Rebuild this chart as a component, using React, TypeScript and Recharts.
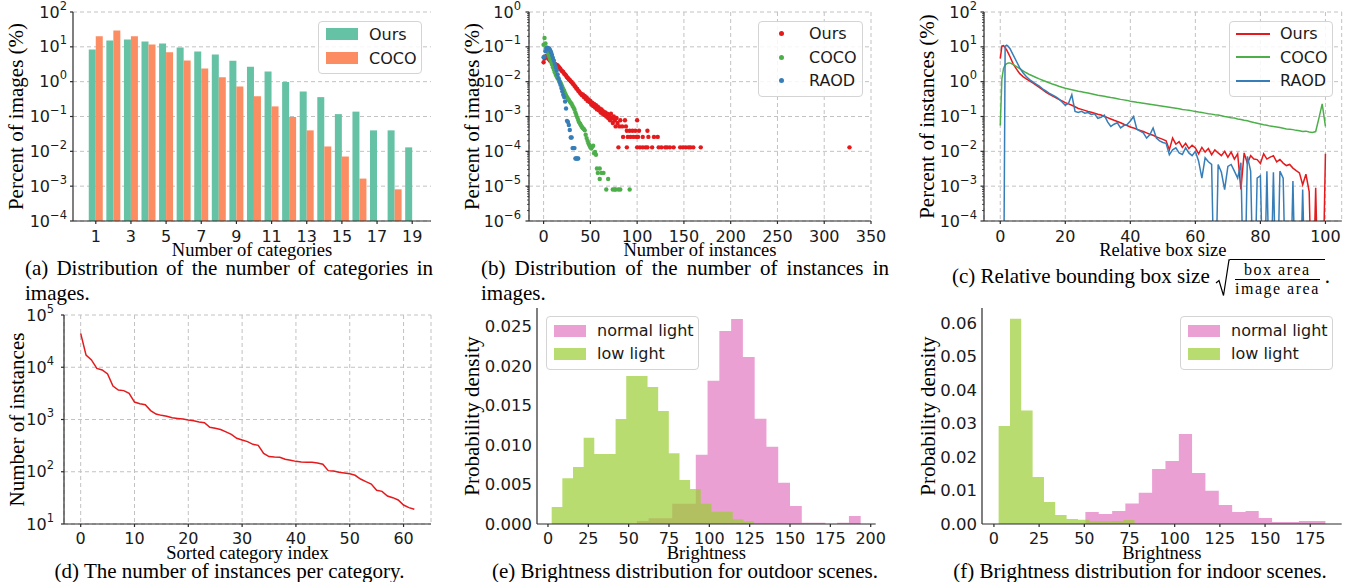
import type { CSSProperties } from 'react'
import {
  Area,
  Bar,
  BarChart,
  CartesianGrid,
  ComposedChart,
  Legend,
  Line,
  LineChart,
  Scatter,
  ScatterChart,
  XAxis,
  YAxis,
} from 'recharts'

const SANS = '"DejaVu Sans", sans-serif'
const SERIF = '"Liberation Serif", "Times New Roman", serif'
const INK = '#1a1a1a'
const GRID = '#c2c2c2'
const SPINE = { stroke: '#2b2b2b', strokeWidth: 1.2 }

// an empty bin on a log axis: drawn far below the visible range and clipped
const EMPTY = 1e-7

// (a) number of categories per image, percent of images
const CATEGORY_COUNTS = [1, 2, 3, 4, 5, 6, 7, 8, 9, 10, 11, 12, 13, 14, 15, 16, 17, 18, 19]
const OURS_CATEGORIES = [8.4, 15.2, 16.3, 14.2, 12.5, 9.6, 7.3, 6.0, 4.0, 2.7, 1.95, 0.98, 0.52, 0.36, 0.117, 0.138, 0.04, 0.04, 0.013]
const COCO_CATEGORIES = [20, 29.5, 20, 11.7, 7.0, 4.05, 2.4, 1.33, 0.73, 0.38, 0.195, 0.097, 0.04, 0.0138, 0.0071, 0.00165, null, 0.00081, null]
const DECADES_A = [1e-4, 1e-3, 1e-2, 1e-1, 1, 10, 100]

// (b) number of instances per image, percent of images
const OURS_INSTANCES: [number, number][] = [
  [0, 0.036], [1, 0.046], [2, 0.052], [3, 0.055], [4, 0.05], [5, 0.046], [6, 0.043], [7, 0.04], [8, 0.038], [9, 0.036],
  [10, 0.034], [11, 0.033], [12, 0.032], [13, 0.031], [14, 0.03], [15, 0.029], [16, 0.027], [17, 0.025], [18, 0.023], [19, 0.021],
  [20, 0.02], [21, 0.019], [22, 0.017], [23, 0.016], [24, 0.015], [25, 0.0135], [26, 0.0128], [27, 0.0118], [28, 0.0112], [29, 0.0102],
  [30, 0.0098], [31, 0.0088], [32, 0.0085], [33, 0.0076], [34, 0.0072], [35, 0.0064], [36, 0.0062], [37, 0.0055], [38, 0.0052], [39, 0.0047],
  [40, 0.0045], [41, 0.0041], [42, 0.0043], [43, 0.0036], [44, 0.0039], [45, 0.0032], [46, 0.0035], [47, 0.0028], [48, 0.0031], [49, 0.0026],
  [50, 0.0028], [51, 0.0022], [52, 0.0025], [53, 0.002], [54, 0.0023], [55, 0.0018], [56, 0.0021], [57, 0.0016], [58, 0.0019], [59, 0.0015],
  [60, 0.0017], [61, 0.0013], [62, 0.0016], [63, 0.0012], [64, 0.0014], [65, 0.0011], [66, 0.0013], [67, 0.001], [68, 0.0012], [69, 0.0009],
  [70, 0.00104], [71, 0.00078], [72, 0.0012], [73, 0.00091], [74, 0.00065], [75, 0.001], [76, 0.00078], [77, 0.00052], [78, 0.00091], [79, 0.00065],
  [80, 0.00013], [81, 0.00052], [82, 0.00078], [84, 0.00052], [85, 0.00026], [87, 0.00078], [88, 0.00052], [89, 0.00013], [89, 0.00039],
  [90, 0.00026], [92, 0.00039], [93, 0.00026], [95, 0.00039], [96, 0.00026], [98, 0.00039], [99, 0.00026], [100, 0.00013], [100, 0.00078],
  [101, 0.00026], [102, 0.00039], [103, 0.00013], [106, 0.00013], [106, 0.00026], [109, 0.00013], [111, 0.00013], [111, 0.00039],
  [112, 0.00026], [116, 0.00013], [118, 0.00026], [122, 0.00026], [123, 0.00013], [126, 0.00013], [130, 0.00013], [132, 0.00013],
  [135, 0.00013], [139, 0.00013], [146, 0.00013], [149, 0.00013], [152, 0.00013], [155, 0.00013], [157, 0.00013], [160, 0.00013],
  [168, 0.00013], [327, 0.00013],
]
const COCO_INSTANCES: [number, number][] = [
  [0, 0.115], [1, 0.18], [2, 0.125], [3, 0.095], [4, 0.075], [5, 0.062], [6, 0.052], [7, 0.044], [8, 0.037], [9, 0.031],
  [10, 0.026], [11, 0.022], [12, 0.0185], [13, 0.0158], [14, 0.014], [15, 0.0125], [16, 0.0113], [17, 0.0104], [18, 0.0095], [19, 0.0083],
  [20, 0.0072], [21, 0.0062], [22, 0.0055], [23, 0.0047], [24, 0.0041], [25, 0.0036], [26, 0.0033], [27, 0.003], [28, 0.0027], [29, 0.0025],
  [30, 0.0023], [31, 0.002], [32, 0.0018], [33, 0.0016], [34, 0.0013], [35, 0.0011], [36, 0.00093], [37, 0.0008], [38, 0.00068], [39, 0.00062],
  [40, 0.00055], [41, 0.0005], [42, 0.00046], [43, 0.00044], [44, 0.0004], [45, 0.0003], [46, 0.00024], [47, 0.0002], [48, 0.00017], [49, 0.00015],
  [50, 0.00013], [51, 0.00012], [52, 0.000135], [53, 0.000145], [54, 0.000088], [55, 0.000096], [56, 0.00008], [57, 0.000032], [58, 0.000024],
  [60, 0.000016], [60, 0.000032], [62, 0.000024], [64, 0.000024], [67, 0.000008], [69, 0.000016], [74, 0.000008], [76, 0.000008],
  [77, 0.000008], [80, 0.000008], [82, 0.000008], [92, 0.000008],
]
const RAOD_INSTANCES: [number, number][] = [
  [0, 0.05], [1, 0.052], [2, 0.075], [3, 0.09], [4, 0.095], [5, 0.092], [6, 0.088], [7, 0.08], [8, 0.07], [9, 0.058],
  [10, 0.048], [11, 0.04], [12, 0.032], [13, 0.026], [14, 0.021], [15, 0.016], [16, 0.0125], [17, 0.0098], [18, 0.0082], [19, 0.0066],
  [20, 0.0053], [21, 0.0042], [22, 0.0036], [23, 0.0027], [24, 0.0017], [25, 0.00075], [26, 0.0007], [27, 0.00057], [28, 0.00041],
  [29, 0.00025], [30, 0.00025], [31, 0.000124], [32, 0.000124], [33, 0.000124], [34, 0.000062], [35, 0.000062], [36, 0.000062], [37, 0.000062],
]
const DECADES_B = [1e-6, 1e-5, 1e-4, 1e-3, 1e-2, 1e-1, 1]

// minor ticks of a log axis: 2..9 times every decade but the last
const MINOR_MULTIPLES = [2, 3, 4, 5, 6, 7, 8, 9]
function withMinorTicks(decades: number[]) {
  return [...decades, ...decades.slice(0, -1).flatMap((d) => MINOR_MULTIPLES.map((m) => d * m))]
}

// (c) relative box size, percent of instances
const BOX_SIZE = [0, 0.5, 1, 1.5, 2, 2.5, 3, ...Array.from({ length: 97 }, (_, i) => i + 4)]
const OURS_BOX = [
  4.6, 10.5, 10.8, 9.5, 8.0, 6.5, 5.2,
  3.2, 2.3, 1.7, 1.4, 1.2, 1.05, 0.92, 0.8, 0.69, 0.59,
  0.5, 0.44, 0.39, 0.35, 0.31, 0.28, 0.25, 0.23, 0.21, 0.19,
  0.17, 0.16, 0.15, 0.14, 0.132, 0.124, 0.116, 0.11, 0.1, 0.093,
  0.085, 0.078, 0.072, 0.066, 0.06, 0.055, 0.05, 0.047, 0.043, 0.04,
  0.037, 0.034, 0.031, 0.029, 0.026, 0.024, 0.022, 0.02, 0.011, 0.024,
  0.016, 0.019, 0.013, 0.017, 0.012, 0.015, 0.0125, 0.0085, 0.013, 0.0095,
  0.012, 0.008, 0.011, 0.009, 0.0075, 0.01, 0.0068, 0.0095, 0.006, 0.0085,
  0.0008, 0.009, 0.0045, 0.0075, 0.006, 0.0058, 0.0045, 0.0085, 0.006, 0.0068,
  0.0075, 0.005, 0.0058, 0.0046, 0.0039, 0.0042, 0.0033, 0.0028, 0.0024, 0.0011,
  0.0022, 0.0007, EMPTY, 0.0009, EMPTY, EMPTY, 0.0085,
]
const COCO_BOX = [
  0.055, 1.2, 2.4, 3.0, 3.3, 3.45, 3.45,
  3.1, 2.7, 2.35, 2.05, 1.8, 1.6, 1.45, 1.32, 1.2, 1.1,
  1.01, 0.93, 0.86, 0.8, 0.74, 0.69, 0.65, 0.62, 0.59, 0.56,
  0.53, 0.51, 0.49, 0.47, 0.45, 0.43, 0.41, 0.395, 0.38, 0.365,
  0.35, 0.34, 0.325, 0.31, 0.3, 0.29, 0.275, 0.265, 0.255, 0.248,
  0.24, 0.232, 0.224, 0.217, 0.21, 0.203, 0.197, 0.19, 0.184, 0.178,
  0.172, 0.166, 0.16, 0.155, 0.15, 0.145, 0.14, 0.134, 0.13, 0.125,
  0.12, 0.117, 0.113, 0.11, 0.105, 0.1, 0.097, 0.092, 0.09, 0.085,
  0.082, 0.078, 0.075, 0.071, 0.067, 0.064, 0.061, 0.058, 0.056, 0.053,
  0.052, 0.05, 0.048, 0.046, 0.044, 0.043, 0.042, 0.04, 0.039, 0.037,
  0.038, 0.036, 0.035, 0.037, 0.09, 0.23, 0.052,
]
const RAOD_BOX = [
  EMPTY, EMPTY, EMPTY, 10.5, 11.2, 10.2, 8.8,
  5.8, 3.8, 2.5, 1.8, 1.4, 1.15, 0.98, 0.85, 0.74, 0.62,
  0.54, 0.47, 0.42, 0.37, 0.32, 0.26, 0.21, 0.24, 0.42, 0.14,
  0.13, 0.14, 0.125, 0.13, 0.115, 0.12, 0.088, 0.095, 0.11, 0.07,
  0.052, 0.06, 0.066, 0.047, 0.055, 0.059, 0.074, 0.1, 0.043, 0.038,
  0.034, 0.024, 0.03, 0.047, 0.024, 0.02, 0.018, 0.017, 0.008, 0.011,
  0.0126, 0.009, 0.0081, 0.0126, 0.009, 0.0075, 0.01, 0.0052, 0.0017, 0.0065,
  0.005, 0.0042, EMPTY, 0.0042, 0.0025, 0.0008, 0.0037, 0.0042, 0.0027, 0.0017,
  0.0047, EMPTY, 0.0072, 0.0027, EMPTY, 0.0017, 0.002, EMPTY, 0.0027, EMPTY,
  0.0025, EMPTY, 0.0027, 0.0017, EMPTY, EMPTY, 0.0014, EMPTY, EMPTY, 0.0008,
  EMPTY, EMPTY, EMPTY, EMPTY, EMPTY, EMPTY, EMPTY,
]

// (d) instances per category, sorted
const INSTANCES_PER_CATEGORY = [
  44600, 17100, 13800, 9500, 8860, 7430, 4380, 3670, 3570, 3170,
  2160, 2010, 1920, 1480, 1270, 1200, 1150, 1080, 1050, 1020,
  980, 950, 900, 870, 710, 680, 645, 580, 520, 436,
  405, 377, 335, 320, 225, 195, 191, 189, 174, 166,
  158, 154, 152, 152, 147, 139, 105, 103, 97.5, 94.6,
  91.9, 85.6, 72.6, 64.6, 58.3, 44.1, 42.2, 34.4, 31.9, 28.8,
  23.1, 20.6, 19.1,
]

// (e) outdoor brightness histograms (bin edges + density per bin)
const OUTDOOR_NORMAL_EDGES = [55.1, 62.4, 69.7, 77.0, 84.3, 91.6, 98.9, 106.2, 113.5, 120.8, 128.1, 135.4, 142.7, 150.0, 157.3, 164.6, 171.9, 179.2, 186.5, 193.8]
const OUTDOOR_NORMAL_DENSITY = [0.00038, 0.00072, 0.00072, 0.00257, 0.00257, 0.00878, 0.01816, 0.02445, 0.02597, 0.02116, 0.01334, 0.0098, 0.00524, 0.00228, 0.00015, 0.00015, 0, 0.00015, 0.001]
const OUTDOOR_LOW_EDGES = [2.3, 8.9, 15.5, 22.1, 28.7, 35.3, 41.9, 48.5, 55.1, 61.7, 68.3, 74.9, 81.5, 88.1, 94.7, 101.3, 107.9, 114.5, 121.1, 127.7]
const OUTDOOR_LOW_DENSITY = [0.00215, 0.00579, 0.00722, 0.01094, 0.00887, 0.00887, 0.0133, 0.01875, 0.01875, 0.01736, 0.01432, 0.00895, 0.00557, 0.00443, 0.00258, 0.00156, 0.00156, 0.00059, 0.00036]

// (f) indoor brightness histograms
const INDOOR_NORMAL_EDGES = [50.6, 58.0, 65.4, 72.7, 80.1, 87.5, 94.9, 102.3, 109.6, 117.0, 124.4, 131.8, 139.2, 146.5, 153.9, 161.3, 168.7, 176.1, 183.4]
const INDOOR_NORMAL_DENSITY = [0.0036, 0.003, 0.0039, 0.0061, 0.0093, 0.0164, 0.0188, 0.0269, 0.0152, 0.0099, 0.0057, 0.0036, 0.0039, 0.0018, 0.0006, 0.0006, 0.0009, 0.0009]
const INDOOR_LOW_EDGES = [2.6, 8.9, 15.1, 21.4, 27.7, 33.9, 40.2, 46.5, 52.7, 59.0, 65.3, 71.5, 77.8]
const INDOOR_LOW_DENSITY = [0.0293, 0.0613, 0.0339, 0.014, 0.0066, 0.0027, 0.0015, 0.0013, 0.0008, 0.0008, 0.0009, 0.0012]

const PINK = '#e377c2'
const LIME = '#9acd32'

// step-after points: each edge carries the height of the bin that starts there
function histPoints(edges: number[], density: number[]) {
  return edges.map((x, i) => ({ x, h: density[Math.min(i, density.length - 1)] }))
}

function powLabel(value: number, x: number, y: number) {
  const exp = Math.round(Math.log10(value))
  const sup = exp < 0 ? '\u2212' + -exp : String(exp)
  return (
    <text x={x} y={y + 5.5} textAnchor="end" fontFamily={SANS} fontSize={16} fill={INK}>
      <tspan>10</tspan>
      <tspan dy={-8} fontSize={11.5}>{sup}</tspan>
    </text>
  )
}

function PowTick(props: any) {
  return powLabel(props.payload.value, props.x, props.y)
}

// log tick that draws its own mark: long at decades (with a label), short at minor steps
function minorLogTick(margin: number) {
  return (props: any) => {
    const v = Number(props.payload.value)
    const lg = Math.log10(v)
    const major = Math.abs(lg - Math.round(lg)) < 1e-6
    const axisX = props.x + margin
    return (
      <g>
        <line x1={axisX - (major ? 3.5 : 2)} x2={axisX} y1={props.y} y2={props.y} stroke="#2b2b2b" strokeWidth={major ? 1.2 : 0.8} />
        {major && powLabel(v, props.x, props.y)}
      </g>
    )
  }
}

function XTick(props: any) {
  const { x, y, payload } = props
  return (
    <text x={x} y={y + 11.5} textAnchor="middle" fontFamily={SANS} fontSize={16} fill={INK}>
      {payload.value}
    </text>
  )
}

function decimalTick(digits: number) {
  return (props: any) => (
    <text x={props.x} y={props.y + 5.8} textAnchor="end" fontFamily={SANS} fontSize={16.5} fill={INK}>
      {Number(props.payload.value).toFixed(digits)}
    </text>
  )
}

function xTitle(text: string, dy: number) {
  return (props: any) => {
    const vb = props.viewBox ?? {}
    const x = (vb.x ?? 0) + (vb.width ?? 0) / 2
    return (
      <text x={x} y={(vb.y ?? 0) + dy} textAnchor="middle" dominantBaseline="central" fontFamily={SERIF} fontSize={18.5} fill="#000">
        {text}
      </text>
    )
  }
}

function yTitle(text: string, cx: number) {
  return (props: any) => {
    const vb = props.viewBox ?? {}
    const cy = (vb.y ?? 0) + (vb.height ?? 0) / 2
    return (
      <text x={cx} y={cy} transform={`rotate(-90 ${cx} ${cy})`} textAnchor="middle" dominantBaseline="central" fontFamily={SERIF} fontSize={21} fill="#000">
        {text}
      </text>
    )
  }
}

function dotShape(color: string) {
  return (props: any) => <circle cx={props.cx} cy={props.cy} r={2.2} fill={color} />
}

interface LegendItem {
  label: string
  color: string
  opacity?: number
}

function boxLegend(items: LegendItem[], swatch: 'patch' | 'dot' | 'line', rowH: number, padTop: number) {
  return () => (
    <div
      style={{
        boxSizing: 'border-box',
        border: '1px solid #d4d4d4',
        borderRadius: 4,
        background: 'rgba(255,255,255,0.85)',
        paddingTop: padTop,
        paddingBottom: 3,
        fontFamily: SANS,
        fontSize: 16,
        color: INK,
      }}
    >
      {items.map((item) => (
        <div key={item.label} style={{ display: 'flex', alignItems: 'center', height: rowH }}>
          <div style={{ width: 45, display: 'flex', justifyContent: 'center' }}>
            {swatch === 'patch' && <div style={{ width: 32, height: 12, background: item.color, opacity: item.opacity ?? 1 }} />}
            {swatch === 'dot' && <div style={{ width: 5, height: 5, borderRadius: 3, background: item.color }} />}
            {swatch === 'line' && <div style={{ width: 34, height: 1.6, background: item.color }} />}
          </div>
          <span style={{ marginLeft: 5 }}>{item.label}</span>
        </div>
      ))}
    </div>
  )
}

function CategoriesChart() {
  const rows = CATEGORY_COUNTS.map((n, i) => ({ n, ours: OURS_CATEGORIES[i], coco: COCO_CATEGORIES[i] }))
  return (
    <BarChart width={440} height={262} data={rows} margin={{ top: 12, right: 9, left: 0, bottom: 0 }} barCategoryGap="10%" barGap={0}>
      <CartesianGrid vertical={false} stroke={GRID} strokeDasharray="4 3" />
      <XAxis dataKey="n" interval={1} padding={{ left: 14, right: 10 }} height={41} tick={<XTick />} tickSize={3} tickMargin={6} axisLine={SPINE} tickLine={SPINE} label={xTitle('Number of categories', 29)} />
      <YAxis scale="log" domain={[1e-4, 100]} ticks={DECADES_A} allowDataOverflow width={73} tick={<PowTick />} tickSize={3} tickMargin={3} axisLine={SPINE} tickLine={SPINE} label={yTitle('Percent of images (%)', 16)} />
      <Legend
        layout="vertical"
        align="center"
        verticalAlign="middle"
        wrapperStyle={{ left: 318, top: 21, width: 104 }}
        content={boxLegend([{ label: 'Ours', color: '#66c2a5' }, { label: 'COCO', color: '#fc8d62' }], 'patch', 24, 0)}
      />
      <Bar dataKey="ours" name="Ours" fill="#66c2a5" isAnimationActive={false} />
      <Bar dataKey="coco" name="COCO" fill="#fc8d62" isAnimationActive={false} />
    </BarChart>
  )
}

function InstancesChart() {
  const toPoints = (list: [number, number][]) => list.map(([x, y]) => ({ x, y }))
  return (
    <ScatterChart width={445} height={262} margin={{ top: 12, right: 24, left: 0, bottom: 0 }}>
      <CartesianGrid stroke={GRID} strokeDasharray="4 3" horizontalValues={DECADES_B} />
      <XAxis type="number" dataKey="x" domain={[-15.6, 350]} ticks={[0, 50, 100, 150, 200, 250, 300, 350]} allowDataOverflow height={41} tick={<XTick />} tickSize={3} tickMargin={6} axisLine={SPINE} tickLine={SPINE} label={xTitle('Number of instances', 29)} />
      <YAxis type="number" dataKey="y" scale="log" domain={[1e-6, 1]} ticks={withMinorTicks(DECADES_B)} interval={0} allowDataOverflow width={79} tick={minorLogTick(8)} tickSize={0} tickMargin={8} tickLine={false} axisLine={SPINE} label={yTitle('Percent of images (%)', 22)} />
      <Legend
        layout="vertical"
        align="center"
        verticalAlign="middle"
        wrapperStyle={{ left: 308, top: 21, width: 105 }}
        content={boxLegend([
          { label: 'Ours', color: '#e41a1c' },
          { label: 'COCO', color: '#4daf4a' },
          { label: 'RAOD', color: '#377eb8' },
        ], 'dot', 23.5, 0)}
      />
      <Scatter name="Ours" data={toPoints(OURS_INSTANCES)} fill="#e41a1c" shape={dotShape('#e41a1c')} isAnimationActive={false} />
      <Scatter name="COCO" data={toPoints(COCO_INSTANCES)} fill="#4daf4a" shape={dotShape('#4daf4a')} isAnimationActive={false} />
      <Scatter name="RAOD" data={toPoints(RAOD_INSTANCES)} fill="#377eb8" shape={dotShape('#377eb8')} isAnimationActive={false} />
    </ScatterChart>
  )
}

function BoxSizeChart() {
  const rows = BOX_SIZE.map((x, i) => ({ x, ours: OURS_BOX[i], coco: COCO_BOX[i], raod: RAOD_BOX[i] }))
  return (
    <LineChart width={453} height={262} data={rows} margin={{ top: 12, right: 11.3, left: 0, bottom: 0 }}>
      <CartesianGrid stroke={GRID} strokeDasharray="4 3" horizontalValues={DECADES_A} />
      <XAxis type="number" dataKey="x" domain={[-5, 105]} ticks={[0, 20, 40, 60, 80, 100]} allowDataOverflow height={41} tick={<XTick />} tickSize={3} tickMargin={6} axisLine={SPINE} tickLine={SPINE} label={xTitle('Relative box size', 29)} />
      <YAxis scale="log" domain={[1e-4, 100]} ticks={withMinorTicks(DECADES_A)} interval={0} allowDataOverflow width={84} tick={minorLogTick(7)} tickSize={0} tickMargin={7} tickLine={false} axisLine={SPINE} label={yTitle('Percent of instances (%)', 27)} />
      <Legend
        layout="vertical"
        align="center"
        verticalAlign="middle"
        wrapperStyle={{ left: 329, top: 21, width: 104 }}
        content={boxLegend([
          { label: 'Ours', color: '#e41a1c' },
          { label: 'COCO', color: '#4daf4a' },
          { label: 'RAOD', color: '#377eb8' },
        ], 'line', 23.5, 0)}
      />
      <Line dataKey="ours" name="Ours" stroke="#e41a1c" strokeWidth={1.5} dot={false} isAnimationActive={false} />
      <Line dataKey="coco" name="COCO" stroke="#4daf4a" strokeWidth={1.5} dot={false} isAnimationActive={false} />
      <Line dataKey="raod" name="RAOD" stroke="#377eb8" strokeWidth={1.5} dot={false} isAnimationActive={false} />
    </LineChart>
  )
}

function PerCategoryChart() {
  const rows = INSTANCES_PER_CATEGORY.map((count, index) => ({ index, count }))
  return (
    <LineChart width={440} height={276} data={rows} margin={{ top: 15, right: 9, left: 0, bottom: 0 }}>
      <CartesianGrid stroke={GRID} strokeDasharray="4 3" />
      <XAxis type="number" dataKey="index" domain={[-3.1, 65.1]} ticks={[0, 10, 20, 30, 40, 50, 60]} allowDataOverflow height={52} tick={<XTick />} tickSize={3} tickMargin={5} axisLine={SPINE} tickLine={SPINE} label={xTitle('Sorted category index', 29)} />
      <YAxis scale="log" domain={[10, 1e5]} ticks={[10, 100, 1000, 10000, 100000]} allowDataOverflow width={64} tick={<PowTick />} tickSize={3} tickMargin={7} axisLine={SPINE} tickLine={SPINE} label={yTitle('Number of instances', 17)} />
      <Line dataKey="count" stroke="#e41a1c" strokeWidth={1.5} dot={false} isAnimationActive={false} />
    </LineChart>
  )
}

interface HistProps {
  width: number
  normal: { x: number; h: number }[]
  low: { x: number; h: number }[]
  xDomain: [number, number]
  xTicks: number[]
  yTop: number
  yTicks: number[]
  digits: number
  yAxisWidth: number
  rightMargin: number
  legendLeft: number
  titleX: number
}

function BrightnessChart(p: HistProps) {
  return (
    <ComposedChart width={p.width} height={276} margin={{ top: 8, right: p.rightMargin, left: 0, bottom: 0 }}>
      <XAxis type="number" dataKey="x" domain={p.xDomain} ticks={p.xTicks} allowDataOverflow height={52} tick={<XTick />} tickSize={3} tickMargin={5} axisLine={SPINE} tickLine={SPINE} label={xTitle('Brightness', 29)} />
      <YAxis type="number" domain={[0, p.yTop]} ticks={p.yTicks} allowDataOverflow width={p.yAxisWidth} tick={decimalTick(p.digits)} tickSize={0} tickMargin={5} tickLine={false} axisLine={SPINE} label={yTitle('Probability density', p.titleX)} />
      <Legend
        layout="vertical"
        align="center"
        verticalAlign="middle"
        wrapperStyle={{ left: p.legendLeft, top: 16, width: 153 }}
        content={boxLegend([
          { label: 'normal light', color: PINK, opacity: 0.7 },
          { label: 'low light', color: LIME, opacity: 0.7 },
        ], 'patch', 23.3, 2)}
      />
      <Area data={p.normal} dataKey="h" name="normal light" type="stepAfter" stroke="none" fill={PINK} fillOpacity={0.7} isAnimationActive={false} />
      <Area data={p.low} dataKey="h" name="low light" type="stepAfter" stroke="none" fill={LIME} fillOpacity={0.7} isAnimationActive={false} />
    </ComposedChart>
  )
}

const captionBase: CSSProperties = {
  position: 'absolute',
  fontFamily: SERIF,
  fontSize: 21,
  lineHeight: '25px',
  color: '#000',
}

export default function App() {
  return (
    <div style={{ position: 'absolute', left: 0, top: 0, width: 1353, height: 582, background: '#fff', overflow: 'hidden' }}>
      <div style={{ position: 'absolute', left: 0, top: 0 }}>
        <CategoriesChart />
      </div>
      <div style={{ position: 'absolute', left: 450, top: 0 }}>
        <InstancesChart />
      </div>
      <div style={{ position: 'absolute', left: 900, top: 0 }}>
        <BoxSizeChart />
      </div>
      <div style={{ position: 'absolute', left: 0, top: 300 }}>
        <PerCategoryChart />
      </div>
      <div style={{ position: 'absolute', left: 450, top: 300 }}>
        <BrightnessChart
          width={440}
          normal={histPoints(OUTDOOR_NORMAL_EDGES, OUTDOOR_NORMAL_DENSITY)}
          low={histPoints(OUTDOOR_LOW_EDGES, OUTDOOR_LOW_DENSITY)}
          xDomain={[-6.8, 203.1]}
          xTicks={[0, 25, 50, 75, 100, 125, 150, 175, 200]}
          yTop={0.02736}
          yTicks={[0, 0.005, 0.01, 0.015, 0.02, 0.025]}
          digits={3}
          yAxisWidth={87}
          rightMargin={14.3}
          legendLeft={96}
          titleX={22}
        />
      </div>
      <div style={{ position: 'absolute', left: 900, top: 300 }}>
        <BrightnessChart
          width={453}
          normal={histPoints(INDOOR_NORMAL_EDGES, INDOOR_NORMAL_DENSITY)}
          low={histPoints(INDOOR_LOW_EDGES, INDOOR_LOW_DENSITY)}
          xDomain={[-6.6, 192.4]}
          xTicks={[0, 25, 50, 75, 100, 125, 150, 175]}
          yTop={0.0645}
          yTicks={[0, 0.01, 0.02, 0.03, 0.04, 0.05, 0.06]}
          digits={2}
          yAxisWidth={82}
          rightMargin={11.3}
          legendLeft={280}
          titleX={28}
        />
      </div>

      <div style={{ ...captionBase, left: 25, top: 256, width: 408, textAlign: 'justify' }}>
        (a) Distribution of the number of categories in images.
      </div>
      <div style={{ ...captionBase, left: 481, top: 256, width: 408, textAlign: 'justify' }}>
        (b) Distribution of the number of instances in images.
      </div>
      <div style={{ ...captionBase, left: 900, top: 256, width: 482, textAlign: 'center', lineHeight: '40px', whiteSpace: 'nowrap' }}>
        (c) Relative bounding box size{' '}
        <span style={{ display: 'inline-flex', verticalAlign: 'middle', alignItems: 'flex-start', height: 38 }}>
          <svg width={15} height={38} style={{ display: 'block' }}>
            <path d="M1 24 L4 21.5 L8.5 36.5 L14 0.8 L15 0.8" fill="none" stroke="#000" strokeWidth={1.2} />
          </svg>
          <span
            style={{
              display: 'inline-flex',
              flexDirection: 'column',
              alignItems: 'center',
              borderTop: '1.2px solid #000',
              padding: '2px 5px 0',
              fontSize: 16,
              lineHeight: '16px',
              letterSpacing: 1.5,
            }}
          >
            <span>box area</span>
            <span style={{ alignSelf: 'stretch', height: 1, background: '#000', margin: '1px 0' }} />
            <span>image area</span>
          </span>
        </span>
        .
      </div>
      <div style={{ ...captionBase, lineHeight: '21px', left: 0, top: 560.5, width: 459, textAlign: 'center' }}>
        (d) The number of instances per category.
      </div>
      <div style={{ ...captionBase, lineHeight: '21px', left: 450, top: 560.5, width: 470, textAlign: 'center' }}>
        (e) Brightness distribution for outdoor scenes.
      </div>
      <div style={{ ...captionBase, lineHeight: '21px', left: 900, top: 560.5, width: 480, textAlign: 'center' }}>
        (f) Brightness distribution for indoor scenes.
      </div>
    </div>
  )
}
